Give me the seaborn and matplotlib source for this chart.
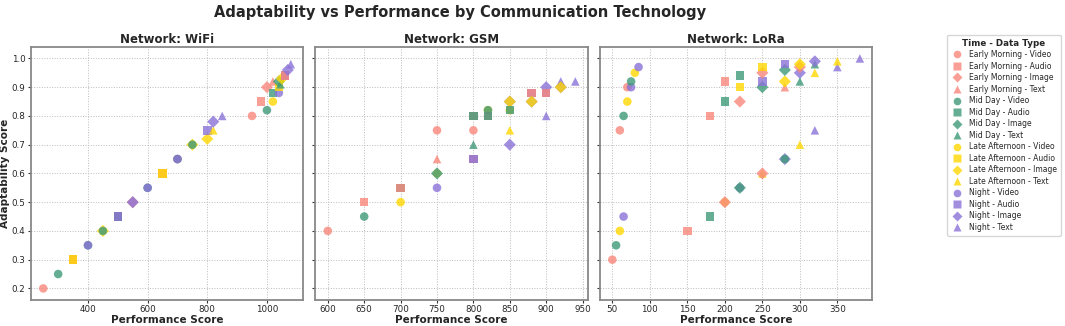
import numpy as np
import pandas as pd
import matplotlib
matplotlib.use('Agg')
import matplotlib.pyplot as plt
from matplotlib.lines import Line2D
import seaborn as sns

sns.set_theme(style='white')
plt.rcParams['font.family'] = ['DejaVu Sans']

# time codes: EM, MD, LA, N ; type codes: V, A, I, T
times = ['Early Morning', 'Mid Day', 'Late Afternoon', 'Night']
time_codes = ['EM', 'MD', 'LA', 'N']
dtypes = ['Video', 'Audio', 'Image', 'Text']
type_codes = ['V', 'A', 'I', 'T']
time_colors = ['#f8877c', '#3f9a78', '#ffd700', '#8a72d8']
type_markers = ['o', 's', 'D', '^']
networks = ['WiFi', 'GSM', 'LoRa']

wifi_perf = [250, 300, 350, 350, 400, 400, 450, 450, 500, 500, 500, 550, 550,
             600, 600, 650, 650, 700, 700, 700, 750, 750, 800, 800, 820, 820,
             850, 950, 980, 1000, 1000, 1020, 1020, 1020, 1040, 1040, 1040,
             1045, 1050, 1060, 1060, 1070, 1080]
wifi_adapt = [0.20, 0.25, 0.30, 0.30, 0.35, 0.35, 0.40, 0.40, 0.45, 0.45, 0.45,
              0.50, 0.50, 0.55, 0.55, 0.60, 0.60, 0.65, 0.65, 0.65, 0.70, 0.70,
              0.72, 0.75, 0.75, 0.78, 0.80, 0.80, 0.85, 0.82, 0.90, 0.92, 0.88,
              0.85, 0.88, 0.90, 0.92, 0.91, 0.93, 0.94, 0.94, 0.96, 0.98]
wifi_time = ['EM', 'MD', 'EM', 'LA', 'MD', 'N', 'LA', 'MD', 'EM', 'MD', 'N',
             'EM', 'N', 'MD', 'N', 'EM', 'LA', 'EM', 'MD', 'N', 'LA', 'MD',
             'LA', 'N', 'LA', 'N', 'N', 'EM', 'EM', 'MD', 'EM', 'EM', 'MD',
             'LA', 'N', 'LA', 'MD', 'MD', 'LA', 'N', 'EM', 'N', 'N']
wifi_type = ['V', 'V', 'A', 'A', 'V', 'V', 'I', 'V', 'A', 'A', 'A', 'I', 'I',
             'V', 'V', 'A', 'A', 'V', 'V', 'V', 'I', 'V', 'I', 'A', 'T', 'I',
             'T', 'V', 'A', 'V', 'I', 'T', 'A', 'V', 'V', 'A', 'I', 'T', 'I',
             'A', 'A', 'I', 'T']

gsm_perf = [600, 650, 650, 700, 700, 700, 750, 750, 750, 750, 750, 800, 800,
            800, 800, 800, 800, 820, 820, 820, 820, 850, 850, 850, 850, 850,
            850, 880, 880, 880, 880, 900, 900, 900, 900, 920, 920, 920, 940]
gsm_adapt = [0.40, 0.50, 0.45, 0.55, 0.55, 0.50, 0.75, 0.65, 0.60, 0.60, 0.55,
             0.80, 0.80, 0.75, 0.70, 0.65, 0.65, 0.82, 0.82, 0.80, 0.80, 0.85,
             0.85, 0.82, 0.82, 0.75, 0.70, 0.88, 0.88, 0.85, 0.85, 0.90, 0.88,
             0.88, 0.80, 0.92, 0.90, 0.90, 0.92]
gsm_time = ['EM', 'EM', 'MD', 'MD', 'EM', 'LA', 'EM', 'EM', 'LA', 'MD', 'N',
            'EM', 'MD', 'EM', 'MD', 'EM', 'N', 'LA', 'MD', 'EM', 'MD', 'N',
            'LA', 'LA', 'MD', 'LA', 'N', 'N', 'EM', 'N', 'LA', 'N', 'N', 'EM',
            'N', 'N', 'N', 'LA', 'N']
gsm_type = ['V', 'A', 'V', 'A', 'A', 'V', 'V', 'T', 'V', 'I', 'V', 'A', 'A',
            'V', 'T', 'A', 'A', 'V', 'V', 'A', 'A', 'I', 'I', 'V', 'A', 'T',
            'I', 'A', 'A', 'I', 'I', 'I', 'A', 'A', 'T', 'T', 'I', 'I', 'T']

lora_perf = [50, 55, 60, 65, 60, 65, 70, 70, 75, 75, 80, 85, 150, 180, 180,
             200, 200, 200, 200, 220, 220, 220, 220, 220, 250, 250, 250, 250,
             250, 250, 280, 280, 280, 280, 280, 280, 300, 300, 300, 300, 300,
             320, 320, 320, 320, 350, 350, 380]
lora_adapt = [0.30, 0.35, 0.40, 0.45, 0.75, 0.80, 0.85, 0.90, 0.90, 0.92, 0.95,
              0.97, 0.40, 0.45, 0.80, 0.50, 0.50, 0.85, 0.92, 0.55, 0.55, 0.85,
              0.90, 0.94, 0.60, 0.60, 0.90, 0.92, 0.95, 0.97, 0.65, 0.65, 0.90,
              0.92, 0.96, 0.98, 0.70, 0.92, 0.95, 0.97, 0.98, 0.75, 0.95, 0.98,
              0.99, 0.97, 0.99, 1.00]
lora_time = ['EM', 'MD', 'LA', 'N', 'EM', 'MD', 'LA', 'EM', 'N', 'MD', 'LA',
             'N', 'EM', 'MD', 'EM', 'LA', 'EM', 'MD', 'EM', 'N', 'MD', 'EM',
             'LA', 'MD', 'LA', 'EM', 'MD', 'N', 'EM', 'LA', 'N', 'MD', 'EM',
             'LA', 'MD', 'N', 'LA', 'MD', 'N', 'EM', 'LA', 'N', 'LA', 'MD',
             'N', 'N', 'LA', 'N']
lora_type = ['V', 'V', 'V', 'V', 'V', 'V', 'V', 'V', 'V', 'V', 'V', 'V', 'A',
             'A', 'A', 'V', 'I', 'A', 'A', 'V', 'I', 'I', 'A', 'A', 'T', 'I',
             'I', 'A', 'I', 'A', 'I', 'V', 'T', 'I', 'I', 'A', 'T', 'T', 'I',
             'I', 'I', 'T', 'T', 'T', 'I', 'T', 'T', 'T']

# build one long table
frames = []
for net, p, a, t, d in [('WiFi', wifi_perf, wifi_adapt, wifi_time, wifi_type),
                        ('GSM', gsm_perf, gsm_adapt, gsm_time, gsm_type),
                        ('LoRa', lora_perf, lora_adapt, lora_time, lora_type)]:
    frames.append(pd.DataFrame({'Network': net, 'Performance': p,
                                'Adaptability': a, 'Time': t, 'Type': d}))
df = pd.concat(frames, ignore_index=True)
df['Time'] = df['Time'].map(dict(zip(time_codes, times)))
df['Type'] = df['Type'].map(dict(zip(type_codes, dtypes)))

palette = dict(zip(times, time_colors))
markers = dict(zip(dtypes, type_markers))

fig, axes = plt.subplots(1, 3, figsize=(10.65, 3.26), dpi=100, sharey=True)
fig.subplots_adjust(left=0.029, right=0.819, top=0.856, bottom=0.08, wspace=0.045)

for ax, net in zip(axes, networks):
    sub = df[df['Network'] == net]
    sns.scatterplot(data=sub, x='Performance', y='Adaptability', hue='Time',
                    style='Type', palette=palette, markers=markers,
                    hue_order=times, style_order=dtypes, s=38, alpha=0.8,
                    edgecolor='none', legend=False, ax=ax)
    ax.set_title(f'Network: {net}', fontsize=8.5, fontweight='bold', pad=3)
    ax.set_xlabel('Performance Score', fontsize=7.5, fontweight='bold', labelpad=0.5)
    ax.set_ylabel('')
    ax.grid(True, linestyle=':', color='#bbbbbb', linewidth=0.7)
    ax.tick_params(axis='both', labelsize=6.3, length=2.5, width=0.8, pad=1.5,
                   left=True, bottom=True, color='#333333')
    for sp in ax.spines.values():
        sp.set_color('#888888')
        sp.set_linewidth(1.3)

axes[0].set_ylabel('Adaptability Score', fontsize=7.5, fontweight='bold', labelpad=1)
axes[0].set_yticks([0.2, 0.3, 0.4, 0.5, 0.6, 0.7, 0.8, 0.9, 1.0])
axes[0].set_xticks([400, 600, 800, 1000])

handles = []
for tm, col in zip(times, time_colors):
    for dt, mk in zip(dtypes, type_markers):
        handles.append(Line2D([], [], linestyle='', marker=mk, color=col,
                              markersize=5.5, alpha=0.8, markeredgecolor='none',
                              label=f'{tm} - {dt}'))
leg = fig.legend(handles=handles, title='Time - Data Type', loc='upper left',
                 bbox_to_anchor=(0.886, 0.905), fontsize=5.5, title_fontsize=6.3,
                 frameon=True, labelspacing=0.33, handletextpad=0.8,
                 borderpad=0.5, handlelength=1.5)
leg.get_title().set_fontweight('bold')

fig.suptitle('Adaptability vs Performance by Communication Technology',
             x=0.432, y=0.985, fontsize=10.5, fontweight='bold')

fig.savefig('out.png', dpi=100)
